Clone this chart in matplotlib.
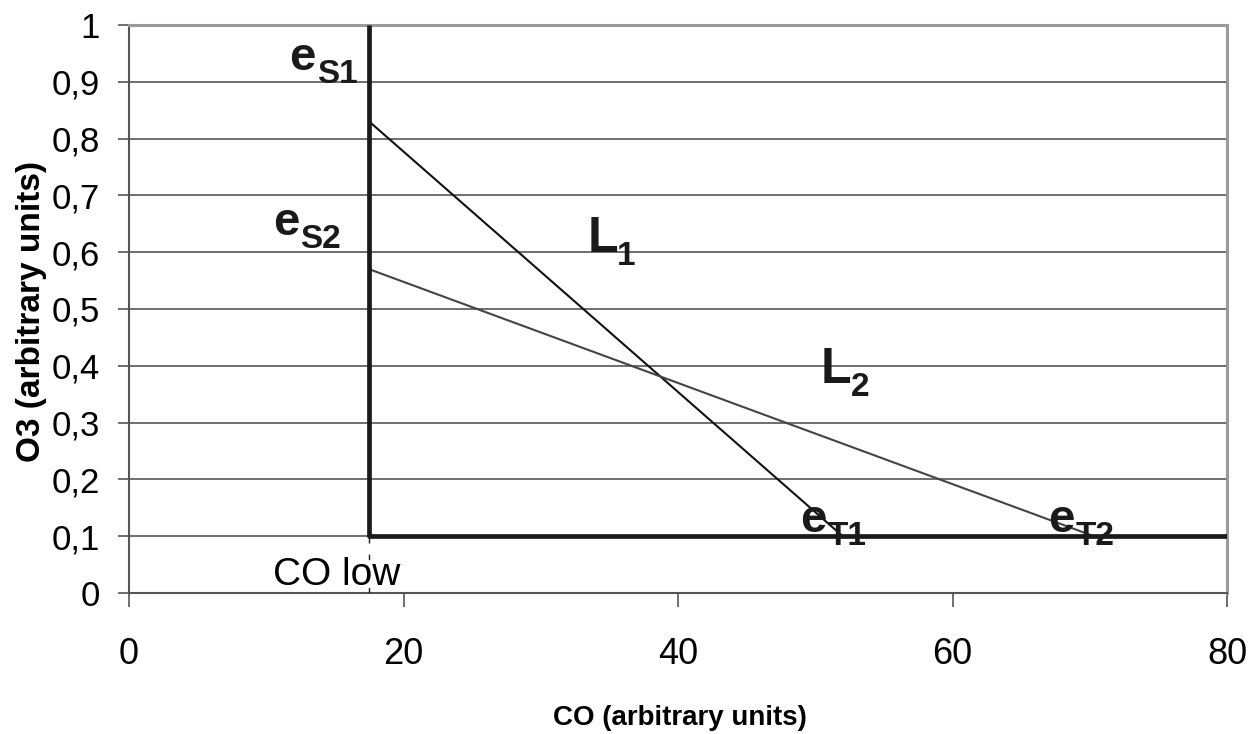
"""Emission envelope sketch: O3 vs CO with source/target lines."""

import matplotlib

matplotlib.use("Agg")

import matplotlib.pyplot as plt

# data
co_low = 17.5
o3_floor = 0.1
l1_co = [17.5, 52.0]
l1_o3 = [0.83, 0.1]
l2_co = [17.5, 70.3]
l2_o3 = [0.57, 0.1]
x_ticks = [0, 20, 40, 60, 80]
y_ticks = [0, 0.1, 0.2, 0.3, 0.4, 0.5, 0.6, 0.7, 0.8, 0.9, 1.0]
y_tick_labels = ["0", "0,1", "0,2", "0,3", "0,4", "0,5", "0,6", "0,7", "0,8", "0,9", "1"]

# (main letter, subscript, x, y baseline)
labels = [
    ("e", "S1", 11.7, 0.921),
    ("e", "S2", 10.5, 0.630),
    ("L", "1", 33.4, 0.600),
    ("L", "2", 50.4, 0.370),
    ("e", "T1", 48.9, 0.107),
    ("e", "T2", 67.0, 0.107),
]

plt.rcParams["font.family"] = ["Liberation Sans Narrow", "Liberation Sans", "DejaVu Sans"]

fig = plt.figure(figsize=(12.55, 7.34), dpi=100)
ax = fig.add_axes([0.1028, 0.1921, 0.8749, 0.7739])

ax.set_xlim(0, 80)
ax.set_ylim(0, 1)
ax.set_yticks(y_ticks)
ax.set_yticklabels(y_tick_labels)
ax.set_xticks(x_ticks)

ax.grid(axis="y", color="#555555", linewidth=1.2)
ax.set_axisbelow(True)

for side in ["left", "bottom"]:
    ax.spines[side].set_color("#555555")
    ax.spines[side].set_linewidth(1.5)
for side in ["right", "top"]:
    ax.spines[side].set_color("#9a9a9a")
    ax.spines[side].set_linewidth(2.2)

ax.tick_params(axis="y", direction="out", length=8, width=1.2, color="#555555",
               pad=13, labelsize=25)
ax.tick_params(axis="x", direction="out", length=10, width=1.2, color="#555555",
               pad=22, labelsize=26)

# boundary lines
ax.plot([co_low, co_low], [o3_floor, 1.0], color="#1a1a1a", linewidth=3.4,
        solid_capstyle="butt", zorder=4)
ax.plot([co_low, 80], [o3_floor, o3_floor], color="#1a1a1a", linewidth=3.4,
        solid_capstyle="round", zorder=4)
ax.plot([co_low, co_low], [0, o3_floor], color="#1a1a1a", linewidth=1.0,
        linestyle=(0, (4, 8)), zorder=3)

ax.plot(l1_co, l1_o3, color="#111111", linewidth=1.5, zorder=3)
ax.plot(l2_co, l2_o3, color="#444444", linewidth=1.5, zorder=3)

for main, sub, x, y in labels:
    big = 34 if main == "e" else 36
    dx = 19.5 if main == "e" else 21.5
    ax.text(x, y, main, fontsize=big, fontweight="bold", ha="left", va="baseline",
            color="#1a1a1a", zorder=5)
    ax.annotate(sub, xy=(x, y), xytext=(dx, -9.4), textcoords="offset points",
                fontsize=24, fontweight="bold", ha="left", va="baseline",
                color="#1a1a1a", zorder=5)

ax.text(10.5, 0.014, "CO low", fontsize=28, ha="left", va="baseline", zorder=5)

ax.set_xlabel("CO (arbitrary units)", fontsize=20, fontweight="bold")
ax.set_ylabel("O3 (arbitrary units)", fontsize=24, fontweight="bold")
ax.xaxis.set_label_coords(0.502, -0.197)
ax.yaxis.set_label_coords(-0.0747, 0.496)

fig.savefig("out.png", dpi=100)
